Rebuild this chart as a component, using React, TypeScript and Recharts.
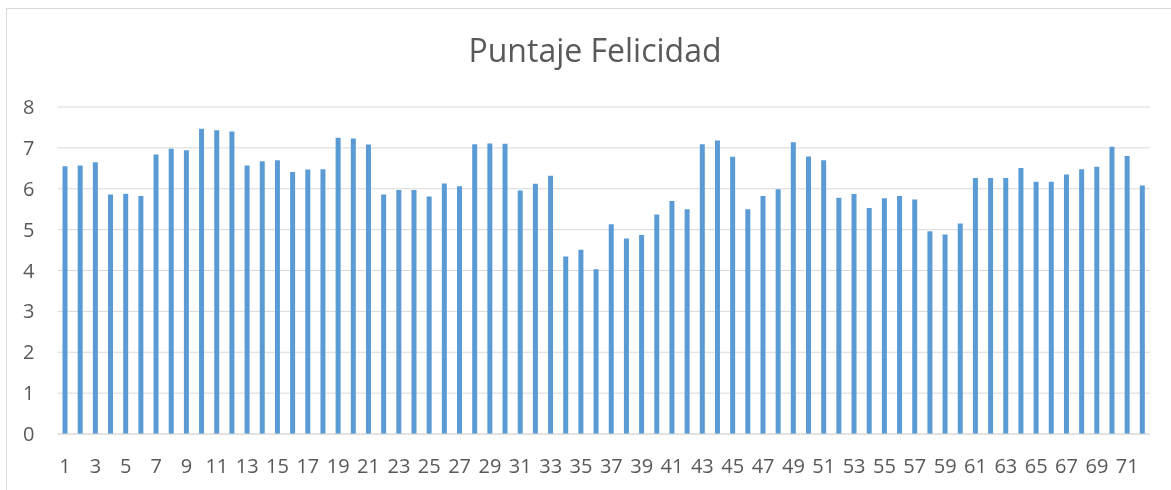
import { BarChart, Bar, XAxis, YAxis, CartesianGrid } from 'recharts'

const categorias = Array.from({ length: 72 }, (_, i) => String(i + 1))

const puntajes = [
  6.55, 6.57, 6.65, 5.86, 5.88, 5.82, 6.84, 6.98, 6.94, 7.47,
  7.43, 7.4, 6.57, 6.67, 6.7, 6.41, 6.47, 6.48, 7.25, 7.23,
  7.08, 5.86, 5.97, 5.97, 5.81, 6.13, 6.06, 7.09, 7.11, 7.1,
  5.96, 6.12, 6.32, 4.34, 4.51, 4.03, 5.13, 4.78, 4.87, 5.37,
  5.7, 5.5, 7.09, 7.18, 6.78, 5.5, 5.82, 5.99, 7.14, 6.79,
  6.7, 5.78, 5.87, 5.53, 5.77, 5.82, 5.74, 4.96, 4.88, 5.15,
  6.26, 6.26, 6.26, 6.51, 6.17, 6.17, 6.35, 6.48, 6.54, 7.03,
  6.8, 6.08,
]

const ticksY = [0, 1, 2, 3, 4, 5, 6, 7, 8]

const data = categorias.map((c, i) => ({ nombre: c, puntaje: puntajes[i] }))

const FONT = '"Open Sans", "Noto Sans", sans-serif'
const TEXTO = '#595959'

export default function App() {
  return (
    <div style={{ position: 'relative', width: 1163, height: 482, fontFamily: FONT }}>
      <div
        style={{
          position: 'fixed',
          left: 6,
          top: 8,
          width: 2000,
          height: 1000,
          border: '1px solid #d9d9d9',
          pointerEvents: 'none',
        }}
      />
      <div
        style={{
          position: 'absolute',
          left: 0,
          top: 26,
          width: 1174,
          textAlign: 'center',
          fontSize: 32,
          lineHeight: 1,
          color: TEXTO,
        }}
      >
        Puntaje Felicidad
      </div>
      <BarChart
        width={1163}
        height={482}
        data={data}
        margin={{ top: 99, right: 21, bottom: 26, left: 0 }}
        barCategoryGap={0}
      >
        <CartesianGrid stroke="#d9d9d9" vertical={false} />
        <XAxis
          dataKey="nombre"
          interval={1}
          height={30}
          tickSize={0}
          tickMargin={25}
          tickLine={false}
          axisLine={{ stroke: '#d9d9d9' }}
          tick={{ fontSize: 20, fill: TEXTO, fontFamily: FONT }}
        />
        <YAxis
          domain={[0, 8]}
          ticks={ticksY}
          width={49.5}
          tickSize={0}
          tickMargin={23}
          tickLine={false}
          axisLine={false}
          tick={{ fontSize: 20, fill: TEXTO, fontFamily: FONT }}
        />
        <Bar dataKey="puntaje" fill="#5b9bd5" barSize={5} isAnimationActive={false} />
      </BarChart>
    </div>
  )
}
